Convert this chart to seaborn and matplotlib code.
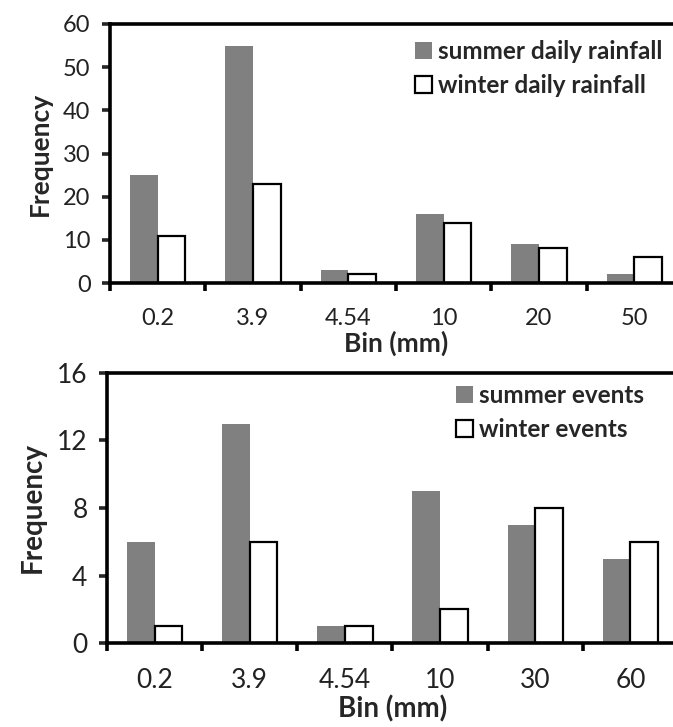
import numpy as np
import pandas as pd
import matplotlib
matplotlib.use("Agg")
import matplotlib.pyplot as plt
import seaborn as sns

# Rainfall frequency by bin
bins_daily = ["0.2", "3.9", "4.54", "10", "20", "50"]
summer_daily = [25, 55, 3, 16, 9, 2]
winter_daily = [11, 23, 2, 14, 8, 6]

bins_events = ["0.2", "3.9", "4.54", "10", "30", "60"]
summer_events = [6, 13, 1, 9, 7, 5]
winter_events = [1, 6, 1, 2, 8, 6]

sns.set_style("ticks")
plt.rcParams["font.family"] = ["Lato", "DejaVu Sans"]

fig = plt.figure(figsize=(6.73, 7.27), dpi=100)
ax_top = fig.add_axes([0.1634, 0.6107, 0.8500, 0.3563])
ax_bot = fig.add_axes([0.1590, 0.1155, 0.8484, 0.3715])

GREY = "#808080"


def draw_panel(ax, bins, summer, winter, labels, ymax, ystep, tick_fs, label_fs,
               legend_fs, legend_anchor, xpad, xlabelpad):
    df = pd.DataFrame({
        "bin": bins * 2,
        "freq": list(summer) + list(winter),
        "season": [labels[0]] * len(bins) + [labels[1]] * len(bins),
    })
    sns.barplot(data=df, x="bin", y="freq", hue="season", order=bins,
                hue_order=labels, palette=[GREY, "white"], width=0.58,
                gap=0, ax=ax, legend=False, saturation=1)
    for p in ax.containers[0]:
        p.set_edgecolor("none")
        p.set_linewidth(0)
    for p in ax.containers[1]:
        p.set_edgecolor("black")
        p.set_linewidth(1.6)

    ax.set_xlim(-0.5, len(bins) - 0.5)
    ax.set_ylim(0, ymax)
    ax.set_yticks(np.arange(0, ymax + 0.1, ystep))
    ax.set_xticks(np.arange(len(bins)))
    ax.set_xticklabels(bins)
    ax.set_xticks(np.arange(-0.5, len(bins), 1), minor=True)

    for s in ax.spines.values():
        s.set_linewidth(2.6)
        s.set_color("black")
    ax.tick_params(axis="x", which="major", length=0, pad=xpad,
                   labelsize=tick_fs, labelcolor="#222222")
    ax.tick_params(axis="x", which="minor", length=6, width=2.6,
                   direction="out", color="black")
    ax.tick_params(axis="y", which="major", length=6, width=2.6,
                   direction="out", pad=8, labelsize=tick_fs,
                   labelcolor="#222222")

    ax.set_xlabel("Bin (mm)", fontsize=label_fs, fontweight="bold",
                  labelpad=xlabelpad)
    ax.set_ylabel("Frequency", fontsize=label_fs, fontweight="bold",
                  labelpad=8)

    ax.legend(ax.containers, labels, loc="upper left",
              bbox_to_anchor=legend_anchor, bbox_transform=fig.transFigure,
              frameon=False, handlelength=0.7, handleheight=0.7,
              handletextpad=0.25, labelspacing=0.45, borderaxespad=0,
              borderpad=0, prop={"weight": "bold", "size": legend_fs})


draw_panel(ax_top, bins_daily, summer_daily, winter_daily,
           ["summer daily rainfall", "winter daily rainfall"],
           60, 10, 17, 19, 17.5, (0.617, 0.945), 18, 1)
draw_panel(ax_bot, bins_events, summer_events, winter_events,
           ["summer events", "winter events"],
           16, 4, 19, 20, 17.5, (0.678, 0.472), 18, 2)

fig.savefig("out.png", dpi=100)
